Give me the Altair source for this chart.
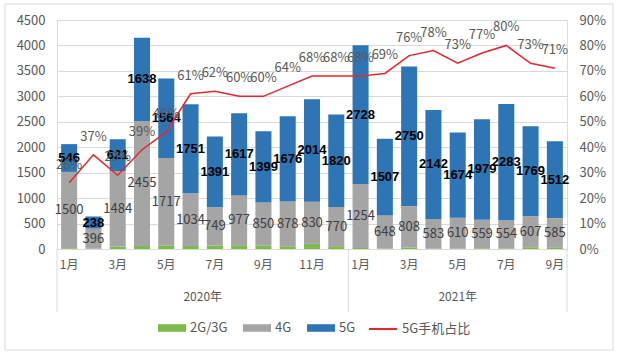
import altair as alt
import pandas as pd

months = ["2020-01", "2020-02", "2020-03", "2020-04", "2020-05", "2020-06",
          "2020-07", "2020-08", "2020-09", "2020-10", "2020-11", "2020-12",
          "2021-01", "2021-02", "2021-03", "2021-04", "2021-05", "2021-06",
          "2021-07", "2021-08", "2021-09"]
g23 = [15, 5, 50, 60, 70, 60, 70, 75, 65, 55, 100, 55, 20, 10, 30, 8, 6, 14, 12, 35, 22]
g4 = [1500, 396, 1484, 2455, 1717, 1034, 749, 977, 850, 878, 830, 770,
      1254, 648, 808, 583, 610, 559, 554, 607, 585]
g5 = [546, 238, 621, 1638, 1564, 1751, 1391, 1617, 1399, 1676, 2014, 1820,
      2728, 1507, 2750, 2142, 1674, 1979, 2283, 1769, 1512]
share = [26, 37, 29, 39, 46, 61, 62, 60, 60, 64, 68, 68,
         68, 69, 76, 78, 73, 77, 80, 73, 71]
series_names = ["2G/3G", "4G", "5G"]
line_name = "5G手机占比"
year_names = ["2020年", "2021年"]
left_ticks = [0, 500, 1000, 1500, 2000, 2500, 3000, 3500, 4000, 4500]
right_ticks = [0, 10, 20, 30, 40, 50, 60, 70, 80, 90]

GREEN, GRAY, BLUE, RED = "#7DBB4C", "#A5A5A5", "#2E75B6", "#E8262E"
TXT = "#595959"
FONT = "Noto Sans CJK SC"

rows = []
for i, m in enumerate(months):
    for k, (name, vals) in enumerate(zip(series_names, [g23, g4, g5])):
        rows.append({"key": m, "series": name, "value": vals[i], "ord": k})
bars_df = pd.DataFrame(rows)

lab_df = pd.DataFrame({
    "key": months,
    "v4": g4, "v5": g5,
    "mid4": [a + b / 2 for a, b in zip(g23, g4)],
    "mid5": [a + b + c / 2 for a, b, c in zip(g23, g4, g5)],
})
line_df = pd.DataFrame({"key": months, "share": share, "name": line_name,
                        "lbl": [f"{s}%" for s in share]})

W, H = 510, 229

x_axis = alt.Axis(
    title=None, ticks=False, domainColor="#D9D9D9", domainWidth=1,
    labelExpr="parseInt(slice(datum.value,5)) % 2 == 1 ? parseInt(slice(datum.value,5)) + '月' : ''",
    labelFont=FONT, labelFontSize=12, labelColor=TXT, labelPadding=10, labelAngle=0,
)
x_scale = alt.Scale(domain=months, paddingInner=0, paddingOuter=0)


def X(bp=0.5):
    return alt.X("key:N", scale=x_scale, axis=x_axis, sort=months, bandPosition=bp)


yl_scale = alt.Scale(domain=[0, 4500], nice=False, zero=True)
yr_scale = alt.Scale(domain=[0, 90], nice=False, zero=True)
yl_axis = alt.Axis(title=None, values=left_ticks, format="d", labelOverlap=False,
                   domain=False, ticks=False, grid=True, gridColor="#D9D9D9",
                   labelFont=FONT, labelFontSize=13, labelColor=TXT, labelPadding=12,
                   orient="left")
yr_axis = alt.Axis(title=None, values=right_ticks, labelExpr="datum.value + '%'",
                   labelOverlap=False, grid=False, domain=False, ticks=False,
                   labelFont=FONT, labelFontSize=13, labelColor=TXT, labelPadding=12,
                   orient="right")

bars = alt.Chart(bars_df).mark_bar(width=alt.RelativeBandSize(0.66)).encode(
    x=X(),
    y=alt.Y("value:Q", stack="zero", scale=yl_scale, axis=yl_axis),
    color=alt.Color("series:N", scale=alt.Scale(domain=series_names, range=[GREEN, GRAY, BLUE]),
                    legend=alt.Legend(title=None, orient="none", legendX=101, legendY=294,
                                      direction="horizontal",
                                      symbolType="M-1,-0.27H1V0.27H-1Z", symbolSize=784,
                                      symbolStrokeWidth=0, labelFont=FONT, labelFontSize=13,
                                      labelColor=TXT, labelOffset=4, columnPadding=15)),
    order=alt.Order("ord:Q"),
)

lab4 = alt.Chart(lab_df).mark_text(font=FONT, fontSize=13, color="#404040", baseline="middle").encode(
    x=X(), y=alt.Y("mid4:Q", scale=yl_scale, axis=yl_axis), text="v4:Q")
lab5 = alt.Chart(lab_df).mark_text(font="Liberation Sans", fontSize=13, fontWeight="bold",
                                   color="#000000", baseline="middle").encode(
    x=X(), y=alt.Y("mid5:Q", scale=yl_scale, axis=yl_axis), text="v5:Q")

left = alt.layer(bars, lab4, lab5)

line = alt.Chart(line_df).mark_line(strokeWidth=1.5).encode(
    x=X(),
    y=alt.Y("share:Q", scale=yr_scale, axis=yr_axis),
    stroke=alt.Stroke("name:N", scale=alt.Scale(domain=[line_name], range=[RED]),
                      legend=alt.Legend(title=None, orient="none", legendX=311, legendY=294,
                                        symbolType="stroke", symbolSize=784, symbolStrokeWidth=2,
                                        labelFont=FONT, labelFontSize=13, labelColor=TXT,
                                        labelOffset=4)),
)
pct = alt.Chart(line_df).mark_text(font=FONT, fontSize=13, color=TXT, baseline="middle", dy=-18).encode(
    x=X(), y=alt.Y("share:Q", scale=yr_scale, axis=yr_axis), text="lbl:N")

right = alt.layer(line, pct)

yr1 = alt.Chart(pd.DataFrame({"key": ["2020-07"], "t": [year_names[0]]})).mark_text(
    font=FONT, fontSize=12, color=TXT, baseline="middle").encode(x=X(0), y=alt.value(H + 48), text="t:N")
yr2 = alt.Chart(pd.DataFrame({"key": ["2021-05"], "t": [year_names[1]]})).mark_text(
    font=FONT, fontSize=12, color=TXT, baseline="middle").encode(x=X(0.5), y=alt.value(H + 48), text="t:N")
sep1 = alt.Chart(pd.DataFrame({"key": ["2020-01", "2021-01"]})).mark_rule(color="#D9D9D9").encode(
    x=X(0), y=alt.value(H), y2=alt.value(H + 63))
sep2 = alt.Chart(pd.DataFrame({"key": ["2021-09"]})).mark_rule(color="#D9D9D9").encode(
    x=X(1), y=alt.value(H), y2=alt.value(H + 63))

frame = alt.Chart(pd.DataFrame({"a": [0]})).mark_rect(
    fillOpacity=0, stroke="#D9D9D9", strokeWidth=1).encode(
    x=alt.value(-52), x2=alt.value(556), y=alt.value(-16), y2=alt.value(330))

chart = alt.layer(left, right, yr1, yr2, sep1, sep2, frame).resolve_scale(
    y="independent"
).properties(
    width=W, height=H,
    autosize=alt.AutoSizeParams(type="none"),
    padding={"left": 57, "top": 20, "right": 51, "bottom": 105},
).configure_view(stroke=None).configure(background="white")

chart.save("out.html", embed_options={"renderer": "svg", "actions": False})
